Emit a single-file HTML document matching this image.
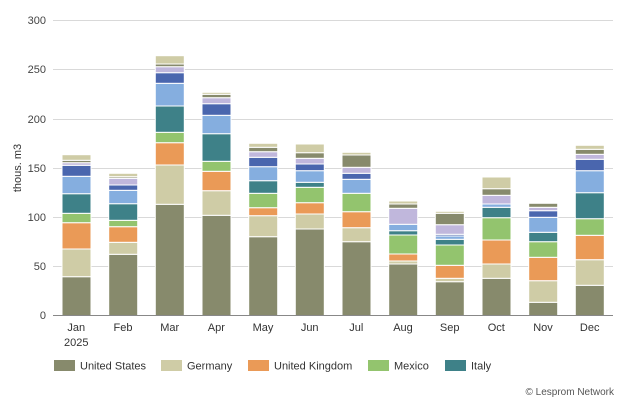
<!DOCTYPE html>
<html><head><meta charset="utf-8"><style>
html,body{margin:0;padding:0;background:#fff;}
svg{display:block;font-family:"Liberation Sans",Arial,sans-serif;}
.a{fill:#878a6c}.b{fill:#cfcca6}.c{fill:#ea9a57}.d{fill:#93c46e}.e{fill:#3e8188}.f{fill:#85aedf}.g{fill:#4a66ae}.h{fill:#c0b7dc}
</style></head><body>
<svg width="624" height="412" viewBox="0 0 624 412" xmlns="http://www.w3.org/2000/svg">
<g stroke="#d9d9d9" stroke-width="1">
<line x1="53" x2="613" y1="20.5" y2="20.5"/>
<line x1="53" x2="613" y1="69.5" y2="69.5"/>
<line x1="53" x2="613" y1="119.5" y2="119.5"/>
<line x1="53" x2="613" y1="168.5" y2="168.5"/>
<line x1="53" x2="613" y1="217.5" y2="217.5"/>
<line x1="53" x2="613" y1="266.5" y2="266.5"/>
</g>
<g font-size="11" fill="#444" text-anchor="end">
<text x="46" y="24">300</text><text x="46" y="73">250</text><text x="46" y="123">200</text>
<text x="46" y="172">150</text><text x="46" y="221">100</text><text x="46" y="270">50</text><text x="46" y="319">0</text>
</g>
<text transform="translate(21,168) rotate(-90)" font-size="11" fill="#333" text-anchor="middle">thous. m3</text>
<g stroke="#fff" stroke-width="1">
<g transform="translate(62,0)">
<rect class="a" y="276.7" width="29" height="38.8"/><rect class="b" y="249" width="29" height="27.7"/><rect class="c" y="222.7" width="29" height="26.3"/><rect class="d" y="213.3" width="29" height="9.4"/><rect class="e" y="193.7" width="29" height="19.6"/><rect class="f" y="176.3" width="29" height="17.4"/><rect class="g" y="165.3" width="29" height="11"/><rect class="h" y="162.7" width="29" height="2.6"/><rect class="a" y="160.3" width="29" height="2.4"/><rect class="b" y="154.7" width="29" height="5.6"/>
</g>
<g transform="translate(108.7,0)">
<rect class="a" y="254.3" width="29" height="61.2"/><rect class="b" y="242.3" width="29" height="12"/><rect class="c" y="226.7" width="29" height="15.6"/><rect class="d" y="220.3" width="29" height="6.4"/><rect class="e" y="203.7" width="29" height="16.6"/><rect class="f" y="190.3" width="29" height="13.4"/><rect class="g" y="185" width="29" height="5.3"/><rect class="h" y="178.3" width="29" height="6.7"/><rect class="a" y="176.7" width="29" height="1.6"/><rect class="b" y="173.3" width="29" height="3.4"/>
</g>
<g transform="translate(155.3,0)">
<rect class="a" y="204.3" width="29" height="111.2"/><rect class="b" y="165" width="29" height="39.3"/><rect class="c" y="142.7" width="29" height="22.3"/><rect class="d" y="132.3" width="29" height="10.4"/><rect class="e" y="106" width="29" height="26.3"/><rect class="f" y="83.3" width="29" height="22.7"/><rect class="g" y="72.7" width="29" height="10.6"/><rect class="h" y="66.7" width="29" height="6"/><rect class="a" y="64" width="29" height="2.7"/><rect class="b" y="55.7" width="29" height="8.3"/>
</g>
<g transform="translate(202,0)">
<rect class="a" y="215.3" width="29" height="100.2"/><rect class="b" y="190.7" width="29" height="24.6"/><rect class="c" y="171.3" width="29" height="19.4"/><rect class="d" y="161.3" width="29" height="10"/><rect class="e" y="133.7" width="29" height="27.6"/><rect class="f" y="115.3" width="29" height="18.4"/><rect class="g" y="103.7" width="29" height="11.6"/><rect class="h" y="97.7" width="29" height="6"/><rect class="a" y="94.3" width="29" height="3.4"/><rect class="b" y="92.3" width="29" height="2"/>
</g>
<g transform="translate(248.7,0)">
<rect class="a" y="236.7" width="29" height="78.8"/><rect class="b" y="215.7" width="29" height="21"/><rect class="c" y="207.7" width="29" height="8"/><rect class="d" y="193.3" width="29" height="14.4"/><rect class="e" y="180.7" width="29" height="12.6"/><rect class="f" y="166.7" width="29" height="14"/><rect class="g" y="157.3" width="29" height="9.4"/><rect class="h" y="151.7" width="29" height="5.6"/><rect class="a" y="147.3" width="29" height="4.4"/><rect class="b" y="143.3" width="29" height="4"/>
</g>
<g transform="translate(295.3,0)">
<rect class="a" y="229" width="29" height="86.5"/><rect class="b" y="214" width="29" height="15"/><rect class="c" y="202.7" width="29" height="11.3"/><rect class="d" y="187.3" width="29" height="15.4"/><rect class="e" y="182.3" width="29" height="5"/><rect class="f" y="170.7" width="29" height="11.6"/><rect class="g" y="164" width="29" height="6.7"/><rect class="h" y="158.3" width="29" height="5.7"/><rect class="a" y="152.7" width="29" height="5.6"/><rect class="b" y="144" width="29" height="8.7"/>
</g>
<g transform="translate(342,0)">
<rect class="a" y="241.7" width="29" height="73.8"/><rect class="b" y="227.7" width="29" height="14"/><rect class="c" y="211.7" width="29" height="16"/><rect class="d" y="193.3" width="29" height="18.4"/><rect class="f" y="179.3" width="29" height="14"/><rect class="g" y="173.3" width="29" height="6"/><rect class="h" y="167.3" width="29" height="6"/><rect class="a" y="155" width="29" height="12.3"/><rect class="b" y="152.3" width="29" height="2.7"/>
</g>
<g transform="translate(388.7,0)">
<rect class="a" y="264" width="29" height="51.5"/><rect class="b" y="261" width="29" height="3"/><rect class="c" y="254" width="29" height="7"/><rect class="d" y="235" width="29" height="19"/><rect class="e" y="230.7" width="29" height="4.3"/><rect class="f" y="224.3" width="29" height="6.4"/><rect class="h" y="208.3" width="29" height="16"/><rect class="a" y="204" width="29" height="4.3"/><rect class="b" y="201" width="29" height="3"/>
</g>
<g transform="translate(435.3,0)">
<rect class="a" y="281.7" width="29" height="33.8"/><rect class="b" y="278.3" width="29" height="3.4"/><rect class="c" y="265.3" width="29" height="13"/><rect class="d" y="245" width="29" height="20.3"/><rect class="e" y="239.3" width="29" height="5.7"/><rect class="f" y="236" width="29" height="3.3"/><rect class="g" y="234.3" width="29" height="1.7"/><rect class="h" y="224.7" width="29" height="9.6"/><rect class="a" y="213.3" width="29" height="11.4"/><rect class="b" y="211.3" width="29" height="2"/>
</g>
<g transform="translate(482,0)">
<rect class="a" y="278.3" width="29" height="37.2"/><rect class="b" y="264" width="29" height="14.3"/><rect class="c" y="240" width="29" height="24"/><rect class="d" y="217.7" width="29" height="22.3"/><rect class="e" y="207.3" width="29" height="10.4"/><rect class="f" y="204" width="29" height="3.3"/><rect class="h" y="195.3" width="29" height="8.7"/><rect class="a" y="188.7" width="29" height="6.6"/><rect class="b" y="177" width="29" height="11.7"/>
</g>
<g transform="translate(528.7,0)">
<rect class="a" y="302.3" width="29" height="13.2"/><rect class="b" y="280.7" width="29" height="21.6"/><rect class="c" y="257.3" width="29" height="23.4"/><rect class="d" y="241.7" width="29" height="15.6"/><rect class="e" y="232.3" width="29" height="9.4"/><rect class="f" y="217.3" width="29" height="15"/><rect class="g" y="210.7" width="29" height="6.6"/><rect class="h" y="207.3" width="29" height="3.4"/><rect class="a" y="203.3" width="29" height="4"/>
</g>
<g transform="translate(575.3,0)">
<rect class="a" y="285.3" width="29" height="30.2"/><rect class="b" y="259.7" width="29" height="25.6"/><rect class="c" y="235.3" width="29" height="24.4"/><rect class="d" y="218.7" width="29" height="16.6"/><rect class="e" y="192.7" width="29" height="26"/><rect class="f" y="170.7" width="29" height="22"/><rect class="g" y="159.3" width="29" height="11.4"/><rect class="h" y="154.3" width="29" height="5"/><rect class="a" y="149.3" width="29" height="5"/><rect class="b" y="145.3" width="29" height="4"/>
</g>
</g>
<line x1="53" x2="613" y1="315.5" y2="315.5" stroke="#888" stroke-width="1"/>
<g font-size="11" fill="#333" text-anchor="middle">
<text x="76.3" y="331">Jan</text><text x="76.3" y="346">2025</text>
<text x="123" y="331">Feb</text><text x="169.7" y="331">Mar</text><text x="216.3" y="331">Apr</text>
<text x="263" y="331">May</text><text x="309.7" y="331">Jun</text><text x="356.3" y="331">Jul</text>
<text x="403" y="331">Aug</text><text x="449.7" y="331">Sep</text><text x="496.3" y="331">Oct</text>
<text x="543" y="331">Nov</text><text x="589.7" y="331">Dec</text>
</g>
<g font-size="11" fill="#333">
<rect x="54" y="360" width="21" height="11" fill="#878a6c"/><text x="80" y="369.5">United States</text>
<rect x="161" y="360" width="21" height="11" fill="#cfcca6"/><text x="187" y="369.5">Germany</text>
<rect x="248" y="360" width="21" height="11" fill="#ea9a57"/><text x="274" y="369.5">United Kingdom</text>
<rect x="368" y="360" width="21" height="11" fill="#93c46e"/><text x="394" y="369.5">Mexico</text>
<rect x="445" y="360" width="21" height="11" fill="#3e8188"/><text x="471" y="369.5">Italy</text>
</g>
<text x="614" y="395" font-size="10" fill="#555" text-anchor="end">© Lesprom Network</text>
</svg>
</body></html>
